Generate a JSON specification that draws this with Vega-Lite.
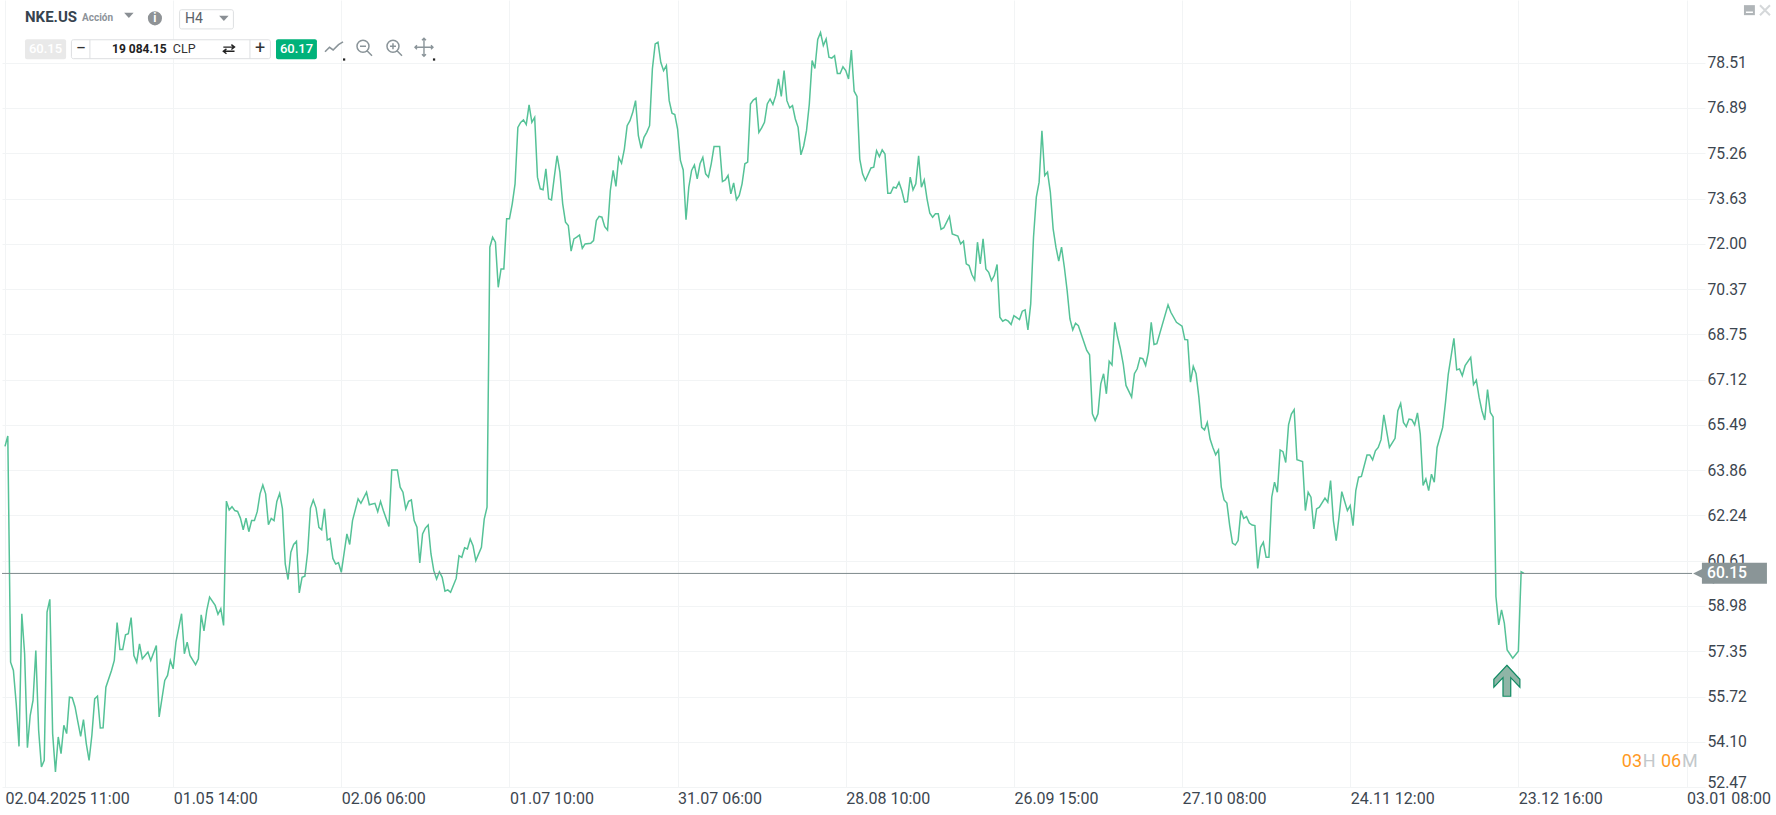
{"$schema":"https://vega.github.io/schema/vega-lite/v6.json","width":1703,"height":787,"autosize":{"type":"none"},"padding":{"left":2,"top":0,"right":71,"bottom":28},"background":"#ffffff","config":{"view":{"stroke":null},"font":"Roboto"},
"datasets":{"series":[{"bar":0,"price":64.72},{"bar":1,"price":65.09},{"bar":2,"price":56.96},{"bar":3,"price":56.66},{"bar":4,"price":55.47},{"bar":5,"price":53.93},{"bar":6,"price":58.7},{"bar":7,"price":57.26},{"bar":8,"price":53.88},{"bar":9,"price":55.05},{"bar":10,"price":55.58},{"bar":11,"price":57.38},{"bar":12,"price":54.51},{"bar":13,"price":53.19},{"bar":14,"price":53.43},{"bar":15,"price":58.76},{"bar":16,"price":59.22},{"bar":17,"price":54.39},{"bar":18,"price":53.01},{"bar":19,"price":54.27},{"bar":20,"price":53.67},{"bar":21,"price":54.69},{"bar":22,"price":54.39},{"bar":23,"price":55.7},{"bar":24,"price":55.68},{"bar":25,"price":55.35},{"bar":26,"price":54.81},{"bar":27,"price":54.29},{"bar":28,"price":54.89},{"bar":29,"price":54.03},{"bar":30,"price":53.43},{"bar":31,"price":54.33},{"bar":32,"price":55.64},{"bar":33,"price":55.74},{"bar":34,"price":54.59},{"bar":35,"price":54.6},{"bar":36,"price":56.06},{"bar":38,"price":56.66},{"bar":39,"price":57.02},{"bar":40,"price":58.38},{"bar":41,"price":57.41},{"bar":42,"price":57.41},{"bar":43,"price":57.94},{"bar":44,"price":57.98},{"bar":45,"price":58.56},{"bar":46,"price":57.2},{"bar":47,"price":56.96},{"bar":48,"price":57.62},{"bar":49,"price":57.08},{"bar":51,"price":57.32},{"bar":52,"price":57.02},{"bar":54,"price":57.56},{"bar":55,"price":54.99},{"bar":57,"price":56.3},{"bar":58,"price":56.48},{"bar":59,"price":57.02},{"bar":60,"price":56.72},{"bar":61,"price":57.68},{"bar":63,"price":58.7},{"bar":64,"price":57.26},{"bar":65,"price":57.68},{"bar":66,"price":57.2},{"bar":68,"price":56.87},{"bar":69,"price":57.08},{"bar":70,"price":58.66},{"bar":71,"price":58.08},{"bar":72,"price":58.82},{"bar":73,"price":59.3},{"bar":75,"price":59},{"bar":76,"price":58.68},{"bar":77,"price":58.88},{"bar":78,"price":58.28},{"bar":79,"price":62.75},{"bar":80,"price":62.43},{"bar":81,"price":62.55},{"bar":82,"price":62.41},{"bar":83,"price":62.38},{"bar":84,"price":62.14},{"bar":85,"price":61.72},{"bar":86,"price":62.14},{"bar":87,"price":61.65},{"bar":88,"price":62.05},{"bar":89,"price":62.05},{"bar":90,"price":62.37},{"bar":91,"price":63.01},{"bar":92,"price":63.33},{"bar":93,"price":63.01},{"bar":94,"price":61.9},{"bar":95,"price":62.13},{"bar":96,"price":62.05},{"bar":97,"price":62.74},{"bar":98,"price":63.03},{"bar":99,"price":62.47},{"bar":100,"price":60.49},{"bar":101,"price":59.93},{"bar":102,"price":60.91},{"bar":103,"price":61.19},{"bar":104,"price":61.3},{"bar":105,"price":59.45},{"bar":106,"price":60.01},{"bar":107,"price":60.05},{"bar":108,"price":60.91},{"bar":109,"price":62.5},{"bar":110,"price":62.79},{"bar":111,"price":62.5},{"bar":112,"price":61.81},{"bar":113,"price":61.72},{"bar":114,"price":62.47},{"bar":115,"price":61.35},{"bar":116,"price":61.41},{"bar":117,"price":60.69},{"bar":118,"price":60.49},{"bar":119,"price":60.53},{"bar":120,"price":60.19},{"bar":122,"price":61.57},{"bar":123,"price":61.19},{"bar":124,"price":62.05},{"bar":126,"price":62.83},{"bar":127,"price":62.67},{"bar":129,"price":63.07},{"bar":130,"price":62.62},{"bar":132,"price":62.67},{"bar":133,"price":62.37},{"bar":134,"price":62.74},{"bar":135,"price":62.41},{"bar":137,"price":61.84},{"bar":138,"price":63.87},{"bar":140,"price":63.87},{"bar":141,"price":63.25},{"bar":142,"price":63.07},{"bar":143,"price":62.47},{"bar":144,"price":62.74},{"bar":145,"price":62.79},{"bar":146,"price":62.05},{"bar":147,"price":61.81},{"bar":148,"price":60.53},{"bar":149,"price":61.57},{"bar":150,"price":61.78},{"bar":151,"price":61.89},{"bar":152,"price":60.85},{"bar":153,"price":60.25},{"bar":154,"price":59.95},{"bar":155,"price":60.21},{"bar":156,"price":60.01},{"bar":157,"price":59.51},{"bar":158,"price":59.56},{"bar":159,"price":59.47},{"bar":161,"price":59.97},{"bar":162,"price":60.79},{"bar":163,"price":60.73},{"bar":164,"price":61.07},{"bar":165,"price":61.03},{"bar":166,"price":61.39},{"bar":167,"price":61.15},{"bar":168,"price":60.61},{"bar":170,"price":61.09},{"bar":171,"price":62.1},{"bar":172,"price":62.53},{"bar":173,"price":71.88},{"bar":174,"price":72.24},{"bar":175,"price":72.06},{"bar":176,"price":70.44},{"bar":177,"price":71.1},{"bar":178,"price":71.1},{"bar":179,"price":72.9},{"bar":180,"price":72.9},{"bar":181,"price":73.44},{"bar":182,"price":74.16},{"bar":183,"price":76.19},{"bar":184,"price":76.37},{"bar":185,"price":76.46},{"bar":186,"price":76.29},{"bar":187,"price":77},{"bar":188,"price":76.37},{"bar":189,"price":76.55},{"bar":190,"price":74.4},{"bar":191,"price":73.98},{"bar":192,"price":73.95},{"bar":193,"price":74.7},{"bar":194,"price":73.62},{"bar":195,"price":73.58},{"bar":196,"price":74.4},{"bar":197,"price":75.17},{"bar":198,"price":74.58},{"bar":199,"price":73.44},{"bar":200,"price":72.78},{"bar":201,"price":72.66},{"bar":202,"price":71.74},{"bar":203,"price":72.18},{"bar":204,"price":72.24},{"bar":205,"price":72.32},{"bar":206,"price":71.84},{"bar":207,"price":72},{"bar":209,"price":72.02},{"bar":210,"price":72.12},{"bar":211,"price":72.84},{"bar":212,"price":72.99},{"bar":213,"price":72.96},{"bar":214,"price":72.62},{"bar":215,"price":72.5},{"bar":216,"price":73.92},{"bar":217,"price":74.64},{"bar":218,"price":74.07},{"bar":219,"price":75.11},{"bar":220,"price":74.9},{"bar":221,"price":75.41},{"bar":222,"price":76.25},{"bar":223,"price":76.43},{"bar":224,"price":76.73},{"bar":225,"price":77.15},{"bar":226,"price":75.89},{"bar":227,"price":75.44},{"bar":228,"price":75.83},{"bar":229,"price":76.01},{"bar":230,"price":76.25},{"bar":231,"price":78.29},{"bar":232,"price":79.19},{"bar":233,"price":79.25},{"bar":234,"price":78.53},{"bar":235,"price":78.23},{"bar":236,"price":78.41},{"bar":237,"price":77.15},{"bar":238,"price":76.7},{"bar":239,"price":76.65},{"bar":240,"price":76.13},{"bar":241,"price":75},{"bar":242,"price":74.66},{"bar":243,"price":72.87},{"bar":244,"price":74.04},{"bar":245,"price":74.64},{"bar":246,"price":74.84},{"bar":247,"price":74.34},{"bar":248,"price":74.88},{"bar":249,"price":75.11},{"bar":250,"price":74.52},{"bar":251,"price":74.4},{"bar":252,"price":74.88},{"bar":253,"price":75.5},{"bar":255,"price":75.5},{"bar":256,"price":74.24},{"bar":257,"price":74.3},{"bar":258,"price":74.46},{"bar":259,"price":73.8},{"bar":260,"price":74.19},{"bar":261,"price":73.59},{"bar":262,"price":73.74},{"bar":263,"price":74.16},{"bar":264,"price":74.88},{"bar":265,"price":74.94},{"bar":266,"price":77.03},{"bar":267,"price":77.17},{"bar":268,"price":77.24},{"bar":269,"price":76.01},{"bar":270,"price":76.17},{"bar":271,"price":76.37},{"bar":272,"price":77.03},{"bar":273,"price":77.21},{"bar":274,"price":77.01},{"bar":275,"price":77.33},{"bar":276,"price":77.93},{"bar":277,"price":77.3},{"bar":278,"price":78.23},{"bar":279,"price":77.15},{"bar":280,"price":76.89},{"bar":281,"price":76.97},{"bar":282,"price":76.49},{"bar":283,"price":76.19},{"bar":284,"price":75.2},{"bar":285,"price":75.53},{"bar":286,"price":76.07},{"bar":287,"price":77.03},{"bar":288,"price":78.59},{"bar":289,"price":78.31},{"bar":290,"price":79.35},{"bar":291,"price":79.6},{"bar":292,"price":79.13},{"bar":293,"price":79.37},{"bar":294,"price":78.71},{"bar":295,"price":78.68},{"bar":296,"price":78.77},{"bar":297,"price":78.13},{"bar":298,"price":78.13},{"bar":299,"price":78.37},{"bar":300,"price":78.23},{"bar":301,"price":77.93},{"bar":302,"price":78.97},{"bar":303,"price":77.49},{"bar":304,"price":77.3},{"bar":305,"price":75.05},{"bar":306,"price":74.52},{"bar":307,"price":74.28},{"bar":309,"price":74.73},{"bar":310,"price":74.76},{"bar":311,"price":75.35},{"bar":312,"price":75.14},{"bar":313,"price":75.38},{"bar":314,"price":75.23},{"bar":315,"price":73.82},{"bar":316,"price":73.82},{"bar":317,"price":74.04},{"bar":318,"price":74.01},{"bar":319,"price":74.22},{"bar":320,"price":73.92},{"bar":321,"price":73.5},{"bar":322,"price":73.52},{"bar":323,"price":74.4},{"bar":324,"price":73.94},{"bar":325,"price":74.16},{"bar":326,"price":75.17},{"bar":327,"price":74.04},{"bar":328,"price":74.3},{"bar":329,"price":73.62},{"bar":330,"price":73.1},{"bar":331,"price":72.96},{"bar":332,"price":73.08},{"bar":333,"price":73.08},{"bar":334,"price":72.52},{"bar":335,"price":72.58},{"bar":337,"price":72.99},{"bar":338,"price":72.36},{"bar":340,"price":72.28},{"bar":341,"price":72},{"bar":342,"price":72.1},{"bar":343,"price":71.28},{"bar":344,"price":71.22},{"bar":345,"price":70.9},{"bar":346,"price":70.71},{"bar":347,"price":72.06},{"bar":348,"price":71.28},{"bar":349,"price":72.18},{"bar":350,"price":71.1},{"bar":351,"price":70.98},{"bar":352,"price":70.68},{"bar":353,"price":70.86},{"bar":354,"price":71.26},{"bar":355,"price":69.36},{"bar":356,"price":69.22},{"bar":357,"price":69.28},{"bar":358,"price":69.22},{"bar":359,"price":69.1},{"bar":360,"price":69.42},{"bar":362,"price":69.28},{"bar":363,"price":69.58},{"bar":364,"price":69.63},{"bar":365,"price":68.91},{"bar":366,"price":69.84},{"bar":367,"price":72.24},{"bar":368,"price":73.68},{"bar":369,"price":74.22},{"bar":370,"price":76.07},{"bar":371,"price":74.46},{"bar":372,"price":74.58},{"bar":373,"price":73.86},{"bar":374,"price":72.54},{"bar":375,"price":71.88},{"bar":376,"price":71.38},{"bar":377,"price":71.88},{"bar":378,"price":71.16},{"bar":379,"price":70.32},{"bar":380,"price":69.3},{"bar":381,"price":68.91},{"bar":382,"price":69.15},{"bar":383,"price":69.06},{"bar":386,"price":68.17},{"bar":387,"price":68.01},{"bar":388,"price":65.89},{"bar":389,"price":65.65},{"bar":390,"price":65.89},{"bar":391,"price":66.97},{"bar":392,"price":67.33},{"bar":393,"price":66.61},{"bar":394,"price":67.78},{"bar":395,"price":67.65},{"bar":396,"price":69.18},{"bar":397,"price":68.65},{"bar":398,"price":68.23},{"bar":399,"price":67.69},{"bar":400,"price":66.91},{"bar":402,"price":66.49},{"bar":403,"price":67.33},{"bar":404,"price":67.51},{"bar":405,"price":67.9},{"bar":406,"price":67.87},{"bar":407,"price":67.63},{"bar":408,"price":68.11},{"bar":409,"price":69.18},{"bar":410,"price":68.38},{"bar":411,"price":68.41},{"bar":415,"price":69.81},{"bar":416,"price":69.54},{"bar":418,"price":69.18},{"bar":420,"price":69.04},{"bar":421,"price":68.56},{"bar":422,"price":68.55},{"bar":423,"price":67.03},{"bar":424,"price":67.6},{"bar":425,"price":67.33},{"bar":426,"price":66.49},{"bar":427,"price":65.4},{"bar":428,"price":65.31},{"bar":429,"price":65.58},{"bar":430,"price":64.98},{"bar":431,"price":64.68},{"bar":432,"price":64.42},{"bar":433,"price":64.59},{"bar":434,"price":63.25},{"bar":435,"price":62.79},{"bar":436,"price":62.68},{"bar":437,"price":61.87},{"bar":438,"price":61.24},{"bar":439,"price":61.17},{"bar":440,"price":61.33},{"bar":441,"price":62.41},{"bar":442,"price":62.13},{"bar":443,"price":62.19},{"bar":444,"price":61.96},{"bar":445,"price":61.89},{"bar":446,"price":61.87},{"bar":447,"price":60.33},{"bar":448,"price":61.09},{"bar":449,"price":61.27},{"bar":450,"price":60.73},{"bar":451,"price":60.73},{"bar":452,"price":62.89},{"bar":453,"price":63.43},{"bar":454,"price":63.07},{"bar":455,"price":64.59},{"bar":456,"price":64.53},{"bar":457,"price":64.14},{"bar":458,"price":65.49},{"bar":459,"price":65.88},{"bar":460,"price":66.04},{"bar":461,"price":64.24},{"bar":463,"price":64.17},{"bar":464,"price":62.41},{"bar":465,"price":63.07},{"bar":466,"price":62.89},{"bar":467,"price":61.75},{"bar":468,"price":62.47},{"bar":469,"price":62.53},{"bar":471,"price":62.86},{"bar":472,"price":62.71},{"bar":473,"price":63.49},{"bar":474,"price":62.05},{"bar":475,"price":61.33},{"bar":476,"price":62.17},{"bar":477,"price":63.09},{"bar":479,"price":62.41},{"bar":480,"price":62.59},{"bar":481,"price":61.87},{"bar":482,"price":63.13},{"bar":483,"price":63.61},{"bar":484,"price":63.64},{"bar":486,"price":64.41},{"bar":487,"price":64.41},{"bar":488,"price":64.23},{"bar":489,"price":64.56},{"bar":490,"price":64.68},{"bar":491,"price":64.96},{"bar":492,"price":65.85},{"bar":494,"price":64.68},{"bar":496,"price":65.01},{"bar":497,"price":66},{"bar":498,"price":66.26},{"bar":499,"price":65.58},{"bar":500,"price":65.43},{"bar":501,"price":65.7},{"bar":502,"price":65.68},{"bar":503,"price":65.49},{"bar":504,"price":65.92},{"bar":505,"price":65.16},{"bar":506,"price":63.31},{"bar":507,"price":63.55},{"bar":508,"price":63.13},{"bar":509,"price":63.72},{"bar":510,"price":63.43},{"bar":511,"price":64.68},{"bar":513,"price":65.4},{"bar":514,"price":66.3},{"bar":515,"price":67.32},{"bar":517,"price":68.6},{"bar":518,"price":67.47},{"bar":519,"price":67.5},{"bar":520,"price":67.26},{"bar":521,"price":67.62},{"bar":523,"price":67.92},{"bar":524,"price":66.94},{"bar":525,"price":67.1},{"bar":526,"price":66.48},{"bar":527,"price":66},{"bar":528,"price":65.67},{"bar":529,"price":66.76},{"bar":530,"price":65.94},{"bar":531,"price":65.78},{"bar":532,"price":59.32},{"bar":533,"price":58.3},{"bar":534,"price":58.84},{"bar":535,"price":58.36},{"bar":536,"price":57.4},{"bar":538,"price":57.1},{"bar":540,"price":57.35},{"bar":541,"price":60.21},{"bar":542,"price":60.15}]},
"encoding":{"x":{"field":"bar","type":"quantitative","title":null,"scale":{"domain":[-1.07,606.6],"nice":false,"zero":false},"axis":{"orient":"bottom","values":[0,60,120,180,240,300,360,420,480,540,600],"labelExpr":"['02.04.2025 11:00','01.05 14:00','02.06 06:00','01.07 10:00','31.07 06:00','28.08 10:00','26.09 15:00','27.10 08:00','24.11 12:00','23.12 16:00','03.01 08:00'][datum.value/60]","labelAlign":"left","labelBaseline":"top","labelPadding":3,"labelFontSize":16,"labelColor":"#3c4650","labelFont":"Roboto","labelBound":false,"labelFlush":false,"labelOverlap":false,"domain":false,"ticks":false,"grid":true,"gridColor":"#f2f4f5","gridWidth":1,"title":null}},"y":{"field":"price","type":"quantitative","title":null,"scale":{"domain":[52.47,80.77],"nice":false,"zero":false},"axis":{"orient":"right","values":[52.47,54.1,55.72,57.35,58.98,60.61,62.24,63.86,65.49,67.12,68.75,70.37,72,73.63,75.26,76.89,78.51],"format":".2f","labelAlign":"left","labelPadding":2,"labelFontSize":15.7,"labelColor":"#3c4650","labelFont":"Roboto","labelBound":false,"labelOverlap":false,"labelBaseline":{"condition":{"test":"datum.value<53","value":"alphabetic"},"value":"middle"},"domain":false,"ticks":false,"grid":true,"gridColor":"#f2f4f5","gridWidth":1,"title":null}}},
"layer":[
{"data":{"name":"series"},"mark":{"type":"line","color":"#55c297","strokeWidth":1.5,"interpolate":"linear"}},
{"data":{"values":[{"bar":-1.07,"bar2":602,"price":60.15}]},"mark":{"type":"rule","color":"#7e8a8c","strokeWidth":1},"encoding":{"x2":{"field":"bar2"}}},
{"data":{"values":[{"bar":605.5,"bar2":628.7,"price":60.53,"price2":59.78}]},"mark":{"type":"rect","color":"#8a9597"},"encoding":{"x2":{"field":"bar2"},"y2":{"field":"price2"}}},
{"data":{"values":[{"bar":606.1,"price":60.15}]},"mark":{"type":"point","shape":"M-1,0L1,-1L1,1Z","filled":true,"color":"#8a9597","size":441,"opacity":1}},
{"data":{"values":[{"bar":607.3,"price":60.15,"label":"60.15"}]},"mark":{"type":"text","align":"left","baseline":"middle","color":"#ffffff","fontSize":15.7,"fontWeight":500,"font":"Roboto"},"encoding":{"text":{"field":"label"}}},
{"data":{"values":[{"bar":535.9,"price":56.29}]},"mark":{"type":"point","shape":"M0,-1L0.84,-0.1L0.84,0.42L0.25,-0.2L0.25,1L-0.25,1L-0.25,-0.2L-0.84,0.42L-0.84,-0.1Z","filled":true,"fill":"#8fb5a6","stroke":"#0f8a62","strokeWidth":1.2,"size":961,"opacity":1}},
{"data":{"values":[{"bar":576.9,"price":53.38,"label":"03"},{"bar":590.9,"price":53.38,"label":"06"}]},"mark":{"type":"text","align":"left","baseline":"middle","color":"#ff9a1f","fontSize":18,"font":"Roboto"},"encoding":{"text":{"field":"label"}}},
{"data":{"values":[{"bar":584.4,"price":53.38,"label":"H"},{"bar":598.4,"price":53.38,"label":"M"}]},"mark":{"type":"text","align":"left","baseline":"middle","color":"#c3c8cb","fontSize":18,"font":"Roboto"},"encoding":{"text":{"field":"label"}}},
{"data":{"values":[{"bar":7.14,"price":80.15,"label":"NKE.US"}]},"mark":{"type":"text","align":"left","baseline":"middle","color":"#36434f","fontSize":15,"fontWeight":700,"font":"Roboto"},"encoding":{"text":{"field":"label"}}},
{"data":{"values":[{"bar":27.5,"price":80.11,"label":"Acción"}]},"mark":{"type":"text","align":"left","baseline":"middle","color":"#8d9399","fontSize":10,"fontWeight":700,"font":"Roboto"},"encoding":{"text":{"field":"label"}}},
{"data":{"values":[{"bar":53.5,"price":80.11}]},"mark":{"type":"point","shape":"circle","filled":true,"color":"#8f9396","size":200,"opacity":1}},
{"data":{"values":[{"bar":53.5,"price":80.11,"label":"i"}]},"mark":{"type":"text","align":"center","baseline":"middle","color":"#ffffff","fontSize":12,"fontWeight":700,"font":"Roboto"},"encoding":{"text":{"field":"label"}}},
{"data":{"values":[{"bar":62.3,"bar2":81.5,"price":80.42,"price2":79.73},{"bar":23.7,"bar2":94.7,"price":79.34,"price2":78.66}]},"mark":{"type":"rect","fill":"#ffffff","stroke":"#dddfe1","strokeWidth":1,"cornerRadius":2},"encoding":{"x2":{"field":"bar2"},"y2":{"field":"price2"}}},
{"data":{"values":[{"bar":44.2,"price":80.22},{"bar":78.1,"price":80.11}]},"mark":{"type":"point","shape":"M-1,-0.55L1,-0.55L0,0.55Z","filled":true,"color":"#8a8f94","size":90,"opacity":1}},
{"data":{"values":[{"bar":30.3,"price":79.34,"price2":78.66},{"bar":87.4,"price":79.34,"price2":78.66}]},"mark":{"type":"rule","color":"#dddfe1","strokeWidth":1},"encoding":{"y2":{"field":"price2"}}},
{"data":{"values":[{"bar":64.2,"price":80.09,"label":"H4"}]},"mark":{"type":"text","align":"left","baseline":"middle","color":"#5a6269","fontSize":14,"font":"Roboto"},"encoding":{"text":{"field":"label"}}},
{"data":{"values":[{"bar":7.14,"bar2":21.8,"price":79.36,"price2":78.64}]},"mark":{"type":"rect","color":"#e9e9e9","cornerRadius":2},"encoding":{"x2":{"field":"bar2"},"y2":{"field":"price2"}}},
{"data":{"values":[{"bar":96.7,"bar2":111.3,"price":79.36,"price2":78.64}]},"mark":{"type":"rect","color":"#00b27a","cornerRadius":2},"encoding":{"x2":{"field":"bar2"},"y2":{"field":"price2"}}},
{"data":{"values":[{"bar":14.45,"price":79,"label":"60.15"}]},"mark":{"type":"text","align":"center","baseline":"middle","color":"#ffffff","fontSize":13,"fontWeight":500,"font":"Roboto"},"encoding":{"text":{"field":"label"}}},
{"data":{"values":[{"bar":104,"price":79,"label":"60.17"}]},"mark":{"type":"text","align":"center","baseline":"middle","color":"#ffffff","fontSize":13,"fontWeight":500,"font":"Roboto"},"encoding":{"text":{"field":"label"}}},
{"data":{"values":[{"bar":38.2,"price":79,"label":"19 084.15"}]},"mark":{"type":"text","align":"left","baseline":"middle","color":"#222222","fontSize":12,"fontWeight":700,"font":"Roboto"},"encoding":{"text":{"field":"label"}}},
{"data":{"values":[{"bar":59.9,"price":79,"label":"CLP"}]},"mark":{"type":"text","align":"left","baseline":"middle","color":"#333333","fontSize":12.5,"font":"Roboto"},"encoding":{"text":{"field":"label"}}},
{"data":{"values":[{"bar":27.1,"price":79.01,"label":"−"},{"bar":91,"price":79.01,"label":"+"}]},"mark":{"type":"text","align":"center","baseline":"middle","color":"#333333","fontSize":18,"font":"Roboto"},"encoding":{"text":{"field":"label"}}},
{"data":{"values":[{"bar":79.9,"price":79}]},"mark":{"type":"point","shape":"M-0.8,-0.3L0.7,-0.3M0.35,-0.65L0.8,-0.3L0.35,0.05M0.8,0.3L-0.7,0.3M-0.35,-0.05L-0.8,0.3L-0.35,0.65","filled":false,"stroke":"#222222","strokeWidth":1.4,"size":196,"opacity":1}},
{"data":{"values":[{"bar":117.4,"price":79.07}]},"mark":{"type":"point","shape":"M-1,0.5L-0.5,0L-0.1,0.3L0.5,-0.3L1,-0.6","filled":false,"stroke":"#8a9499","strokeWidth":1.6,"size":324,"opacity":1}},
{"data":{"values":[{"bar":128.1,"price":79.07}]},"mark":{"type":"point","shape":"M-0.7,-0.1A0.6,0.6,0,1,1,0.5,-0.1A0.6,0.6,0,1,1,-0.7,-0.1ZM0.3,0.35L0.8,0.85M-0.4,-0.1L0.2,-0.1","filled":false,"stroke":"#8a9499","strokeWidth":1.5,"size":400,"opacity":1}},
{"data":{"values":[{"bar":138.8,"price":79.07}]},"mark":{"type":"point","shape":"M-0.7,-0.1A0.6,0.6,0,1,1,0.5,-0.1A0.6,0.6,0,1,1,-0.7,-0.1ZM0.3,0.35L0.8,0.85M-0.4,-0.1L0.2,-0.1M-0.1,-0.4L-0.1,0.2","filled":false,"stroke":"#8a9499","strokeWidth":1.5,"size":400,"opacity":1}},
{"data":{"values":[{"bar":149.5,"price":79.07}]},"mark":{"type":"point","shape":"M-0.9,0L0.9,0M0,-0.9L0,0.9M-0.7,-0.2L-0.9,0L-0.7,0.2M0.7,-0.2L0.9,0L0.7,0.2M-0.2,-0.7L0,-0.9L0.2,-0.7M-0.2,0.7L0,0.9L0.2,0.7","filled":false,"stroke":"#8a9499","strokeWidth":1.4,"size":400,"opacity":1}},
{"data":{"values":[{"bar":121,"price":78.63},{"bar":153.1,"price":78.63}]},"mark":{"type":"point","shape":"square","filled":true,"color":"#222222","size":5,"opacity":1}},
{"data":{"values":[{"bar":620.5,"bar2":624.4,"price":80.585,"price2":80.225}]},"mark":{"type":"rect","color":"#b0b5b8"},"encoding":{"x2":{"field":"bar2"},"y2":{"field":"price2"}}},
{"data":{"values":[{"bar":621.2,"bar2":623.7,"price":80.33}]},"mark":{"type":"rule","color":"#ffffff","strokeWidth":1.5},"encoding":{"x2":{"field":"bar2"}}},
{"data":{"values":[{"bar":628,"price":80.4}]},"mark":{"type":"point","shape":"M-1,-1L1,1M-1,1L1,-1","filled":false,"stroke":"#d5d8da","strokeWidth":2,"size":100,"opacity":1}}
]}
